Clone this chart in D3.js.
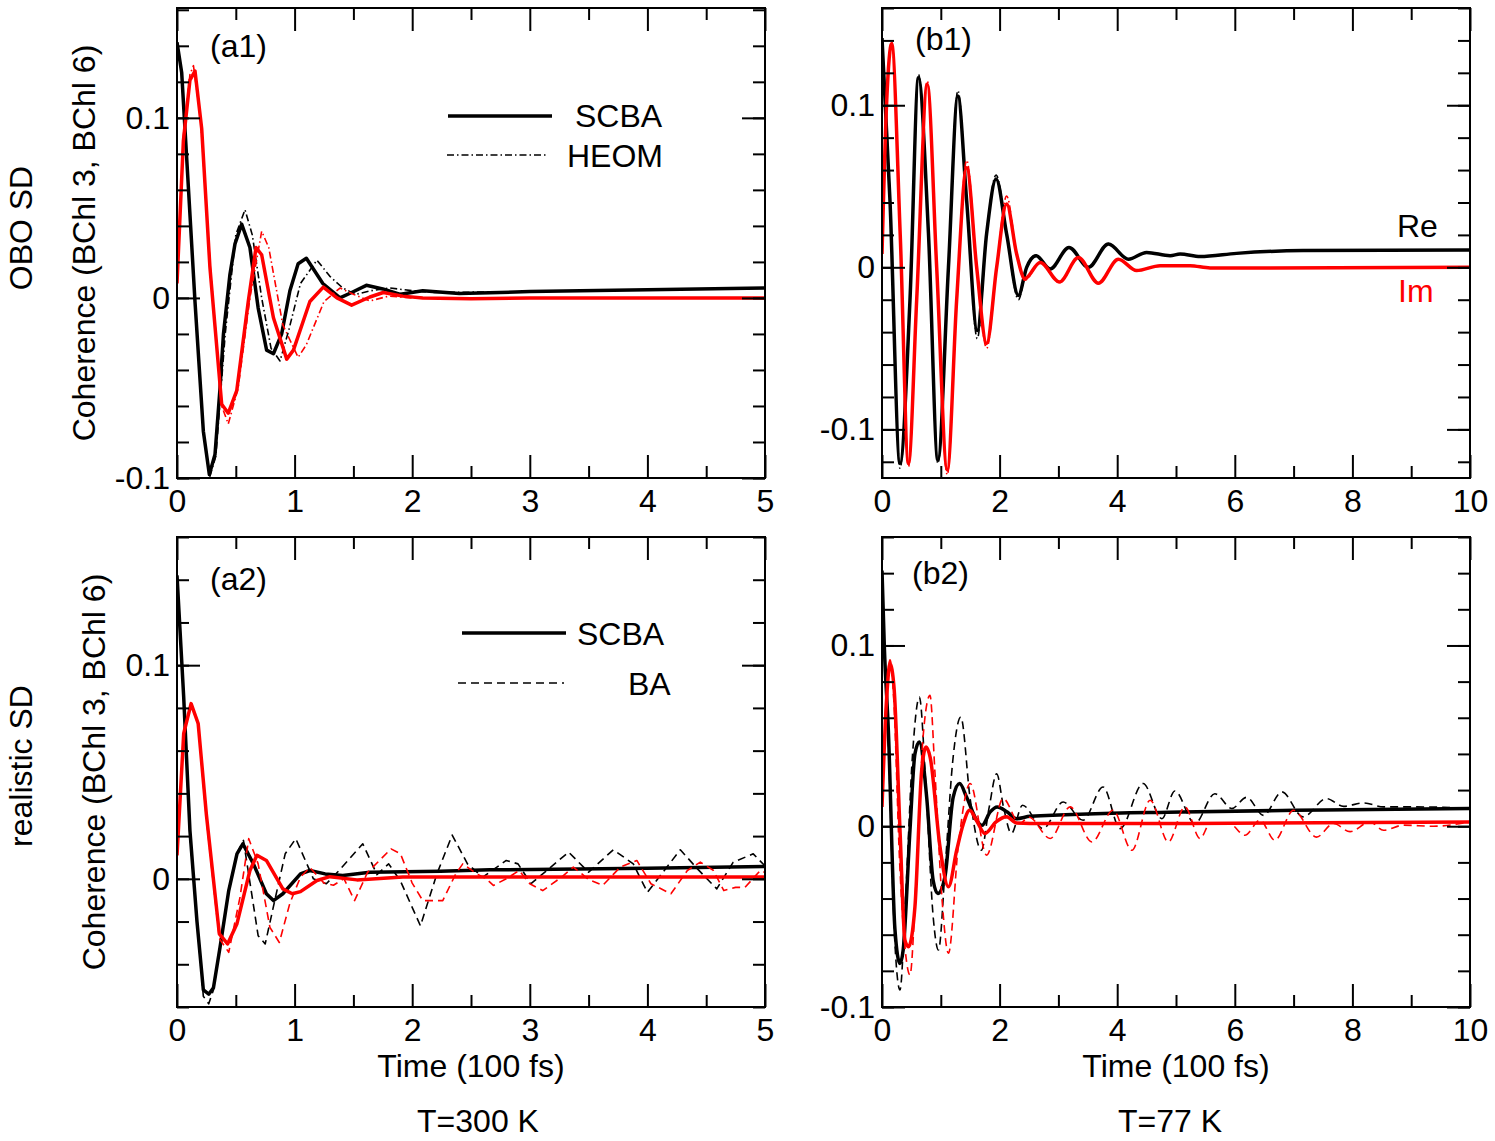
<!DOCTYPE html>
<meta charset="utf-8">
<style>
body { margin: 0; background: #fff; }
svg text { font-family: "Liberation Sans", Arial, Helvetica, sans-serif; font-size: 32px; fill: #000; }
.tick line { stroke-width: 2px; }
.frame { fill: none; stroke: #000; stroke-width: 2px; }
.curve { fill: none; stroke-linejoin: round; }
</style>
<svg width="1495" height="1141"></svg>
<script src="https://d3js.org/d3.v7.min.js"></script>
<script>

// ---- data: [time (100 fs), coherence] ----
var a1ScbaRe = [[0,0.142],[0.04,0.125],[0.082,0.078],[0.153,-0.002],[0.224,-0.074],[0.275,-0.098],[0.323,-0.087],[0.366,-0.05],[0.395,-0.02],[0.45,0.013],[0.493,0.030],[0.55,0.041],[0.62,0.028],[0.69,-0.0055],[0.762,-0.029],[0.82,-0.031],[0.89,-0.020],[0.96,0.004],[1.03,0.019],[1.10,0.022],[1.24,0.008],[1.386,0.0],[1.485,0.003],[1.61,0.007],[1.75,0.005],[1.9,0.002],[2.09,0.004],[2.4,0.0024],[3,0.0035],[4,0.0045],[5,0.0055]];
var a1HeomRe = [[0,0.142],[0.04,0.125],[0.082,0.078],[0.153,-0.002],[0.224,-0.075],[0.28,-0.099],[0.33,-0.088],[0.41,-0.02],[0.5,0.035],[0.578,0.049],[0.64,0.035],[0.72,0.0],[0.8,-0.028],[0.876,-0.035],[0.95,-0.018],[1.05,0.008],[1.19,0.021],[1.3,0.012],[1.41,0.0055],[1.52,0.002],[1.65,0.004],[1.81,0.0055],[2.0,0.004],[2.2,0.003],[3,0.0035],[4,0.0045],[5,0.0055]];
var a1ScbaIm = [[0,0.008],[0.054,0.087],[0.11,0.121],[0.153,0.126],[0.21,0.094],[0.28,0.017],[0.38,-0.059],[0.436,-0.064],[0.508,-0.0515],[0.606,-0.002],[0.672,0.028],[0.72,0.024],[0.82,-0.011],[0.933,-0.034],[0.99,-0.029],[1.13,-0.002],[1.244,0.006],[1.36,0.0],[1.485,-0.004],[1.64,0.0005],[1.754,0.003],[1.92,0.001],[2.09,0.0],[2.5,-0.0005],[3,0.0],[4,0.0],[5,0.0]];
var a1HeomIm = [[0,0.008],[0.054,0.09],[0.11,0.124],[0.14,0.129],[0.2,0.1],[0.28,0.02],[0.38,-0.06],[0.436,-0.070],[0.52,-0.05],[0.62,0.0],[0.72,0.037],[0.78,0.028],[0.9,-0.015],[1.03,-0.033],[1.1,-0.026],[1.25,-0.002],[1.386,0.0055],[1.5,0.002],[1.64,-0.0017],[1.8,0.001],[2.0,0.0],[3,0.0],[4,0.0],[5,0.0]];

var b1ScbaRe = [[0,0.1415],[0.136,0.041],[0.306,-0.121],[0.476,-0.020],[0.62,0.117],[0.79,0.021],[0.95,-0.119],[1.13,0.0],[1.29,0.1057],[1.44,0.041],[1.62,-0.039],[1.78,0.021],[1.94,0.0545],[2.12,0.0205],[2.32,-0.0174],[2.46,0.0],[2.62,0.0072],[2.86,-0.001],[3.18,0.0123],[3.51,0.0],[3.85,0.0144],[4.19,0.005],[4.5,0.0092],[4.9,0.0072],[5.07,0.0082],[5.41,0.0066],[6.03,0.0086],[7.16,0.0103],[10,0.0107]];
var b1HeomRe = [[0,0.142],[0.136,0.042],[0.306,-0.124],[0.476,-0.020],[0.62,0.119],[0.79,0.021],[0.95,-0.121],[1.13,0.0],[1.29,0.109],[1.44,0.042],[1.62,-0.044],[1.78,0.021],[1.94,0.057],[2.12,0.021],[2.32,-0.02],[2.46,0.0],[2.62,0.0075],[2.86,-0.001],[3.18,0.0125],[3.51,0.0],[3.85,0.0146],[4.19,0.005],[4.5,0.0092],[4.9,0.0072],[5.07,0.0082],[5.41,0.0066],[6.03,0.0086],[7.16,0.0103],[10,0.0107]];
var b1ScbaIm = [[0,0.0082],[0.08,0.1026],[0.164,0.138],[0.31,0.02],[0.45,-0.121],[0.59,-0.02],[0.77,0.113],[0.93,0.0],[1.11,-0.125],[1.27,-0.02],[1.44,0.0615],[1.61,0.0],[1.78,-0.047],[1.95,0.0],[2.12,0.039],[2.29,0.0082],[2.43,-0.007],[2.69,0.003],[3.02,-0.009],[3.34,0.006],[3.68,-0.0098],[4.02,0.005],[4.33,-0.002],[4.73,0.001],[5.24,0.001],[5.58,-0.0004],[6.3,-0.0004],[10,0.0]];
var b1HeomIm = [[0,0.0082],[0.08,0.103],[0.164,0.139],[0.31,0.02],[0.45,-0.123],[0.59,-0.02],[0.77,0.115],[0.93,0.0],[1.11,-0.128],[1.27,-0.02],[1.44,0.066],[1.61,0.0],[1.78,-0.05],[1.95,0.0],[2.12,0.044],[2.29,0.0082],[2.43,-0.008],[2.69,0.003],[3.02,-0.0095],[3.34,0.006],[3.68,-0.010],[4.02,0.005],[4.33,-0.002],[4.73,0.001],[5.24,0.001],[5.58,-0.0004],[6.3,-0.0004],[10,0.0]];

var a2ScbaRe = [[0,0.142],[0.057,0.085],[0.11,0.0226],[0.17,-0.02],[0.224,-0.052],[0.27,-0.054],[0.31,-0.051],[0.366,-0.032],[0.44,-0.0055],[0.51,0.0117],[0.56,0.0164],[0.65,0.007],[0.76,-0.007],[0.82,-0.0102],[0.9,-0.007],[1.05,0.0023],[1.13,0.0039],[1.26,0.0023],[1.41,0.0016],[1.64,0.0031],[2.24,0.0036],[2.66,0.0042],[4,0.005],[5,0.0058]];
var a2ScbaIm = [[0,0.011],[0.057,0.068],[0.12,0.082],[0.18,0.0727],[0.25,0.030],[0.36,-0.0258],[0.43,-0.0305],[0.51,-0.021],[0.62,0.0039],[0.68,0.011],[0.76,0.0086],[0.9,-0.0047],[0.98,-0.007],[1.05,-0.006],[1.19,-0.0008],[1.3,0.001],[1.53,-0.0005],[1.92,0.0008],[5,0.0008]];
var a2BaRe = [[0,0.142],[0.057,0.085],[0.11,0.02],[0.224,-0.055],[0.27,-0.0585],[0.31,-0.052],[0.44,-0.005],[0.51,0.012],[0.565,0.018],[0.69,-0.0266],[0.75,-0.0305],[0.85,-0.0055],[0.92,0.0117],[1.01,0.0188],[1.16,0.0],[1.27,-0.0023],[1.38,0.004],[1.58,0.0164],[1.70,0.002],[1.80,0.007],[1.90,-0.001],[2.07,-0.022],[2.21,0.0023],[2.34,0.0205],[2.47,0.007],[2.6,0.0008],[2.8,0.0086],[2.9,0.007],[3.01,-0.0023],[3.33,0.0125],[3.5,0.0031],[3.71,0.0136],[3.88,0.007],[4.0,-0.0063],[4.28,0.0136],[4.42,0.005],[4.59,-0.0047],[4.73,0.0078],[4.9,0.0117],[5.0,0.006]];
var a2BaIm = [[0,0.011],[0.057,0.068],[0.12,0.082],[0.18,0.072],[0.25,0.028],[0.36,-0.028],[0.44,-0.0344],[0.535,-0.0088],[0.61,0.0188],[0.69,0.007],[0.79,-0.0227],[0.87,-0.0298],[0.96,-0.0114],[1.05,0.0008],[1.13,0.0053],[1.25,-0.002],[1.33,-0.003],[1.42,0.0],[1.51,-0.0102],[1.62,0.003],[1.82,0.014],[1.9,0.0117],[2.0,-0.002],[2.09,-0.0102],[2.26,-0.0102],[2.37,0.0023],[2.43,0.007],[2.55,0.0023],[2.63,0.0],[2.69,-0.0031],[2.8,0.0],[2.91,0.0039],[3.0,-0.0023],[3.11,-0.0055],[3.27,0.0008],[3.37,0.0055],[3.5,-0.0003],[3.62,-0.0031],[3.77,0.0055],[3.91,0.0086],[4.03,-0.0023],[4.2,-0.007],[4.34,0.0039],[4.45,0.0078],[4.56,0.004],[4.65,-0.0055],[4.75,-0.004],[4.83,-0.004],[4.96,0.0039],[5.0,0.003]];

var b2ScbaRe = [[0,0.1414],[0.04,0.099],[0.108,0.053],[0.22,-0.057],[0.306,-0.0759],[0.36,-0.0685],[0.476,-0.002],[0.56,0.040],[0.635,0.0466],[0.76,0.016],[0.87,-0.03],[0.95,-0.0372],[1.07,-0.028],[1.21,0.016],[1.32,0.0236],[1.44,0.016],[1.61,0.0033],[1.7,0.0005],[1.84,0.0079],[1.96,0.0107],[2.13,0.0079],[2.29,0.0042],[2.52,0.0055],[5.1,0.0079],[7.5,0.009],[10,0.0098]];
var b2ScbaIm = [[0,0.0107],[0.08,0.0714],[0.136,0.0899],[0.204,0.077],[0.306,-0.002],[0.39,-0.063],[0.45,-0.0667],[0.56,-0.0446],[0.675,0.031],[0.75,0.0438],[0.82,0.038],[0.986,-0.0114],[1.13,-0.0335],[1.27,-0.0133],[1.38,0.001],[1.49,0.0088],[1.61,0.003],[1.75,-0.004],[1.94,0.0024],[2.12,0.0052],[2.29,0.0018],[2.74,0.0015],[5.24,0.0015],[10,0.0024]];
var b2BaRe = [[0,0.142],[0.04,0.1],[0.11,0.045],[0.22,-0.065],[0.306,-0.0906],[0.4,-0.04],[0.52,0.04],[0.635,0.0714],[0.75,0.02],[0.87,-0.05],[0.96,-0.0685],[1.08,-0.02],[1.2,0.035],[1.34,0.0604],[1.5,0.015],[1.69,-0.0133],[1.82,0.01],[1.95,0.029],[2.07,0.01],[2.2,-0.004],[2.39,0.0116],[2.74,-0.0013],[3.08,0.0134],[3.42,0.0033],[3.76,0.0217],[4.05,-0.0013],[4.44,0.0236],[4.76,0.0042],[4.98,0.0195],[5.32,0.0015],[5.66,0.018],[5.95,0.0098],[6.2,0.016],[6.49,0.006],[6.8,0.019],[7.16,0.0052],[7.56,0.0153],[7.85,0.011],[8.19,0.0129],[8.53,0.0107],[9.04,0.0107],[9.55,0.0105],[10,0.0098]];
var b2BaIm = [[0,0.0107],[0.08,0.075],[0.136,0.092],[0.2,0.07],[0.3,-0.02],[0.4,-0.07],[0.476,-0.0823],[0.58,-0.03],[0.7,0.05],[0.816,0.0724],[0.9,0.03],[1.02,-0.04],[1.13,-0.0703],[1.3,-0.01],[1.5,0.0236],[1.78,-0.016],[2.06,0.0153],[2.34,0.0015],[2.5,0.005],[2.86,-0.0068],[3.2,0.0107],[3.57,-0.0087],[3.93,0.0088],[4.25,-0.0133],[4.56,0.0144],[4.87,-0.0087],[5.15,0.0107],[5.41,-0.0068],[5.58,0.0015],[5.92,0.0012],[6.17,-0.005],[6.43,0.0033],[6.68,-0.0077],[7.0,0.0088],[7.39,-0.006],[7.68,0.0015],[7.96,-0.003],[8.3,0.0024],[8.53,-0.0022],[8.87,0.0006],[9.38,0.0],[10,0.0024]];

// ticks
var xMajorA = [0,1,2,3,4,5], xMinorA = [0.5,1.5,2.5,3.5,4.5];
var xMajorB = [0,2,4,6,8,10], xMinorB = [1,3,5,7,9];
var yMajor = [-0.1,0,0.1];
var yMinor = [-0.12,-0.1,-0.08,-0.06,-0.04,-0.02,0,0.02,0.04,0.06,0.08,0.1,0.12,0.14,0.16];

var RED = "#ff0000";
var solid = {width: 3.5, dash: null};
var heom = {width: 1.6, dash: "7,3,1.5,3"};
var ba = {width: 1.6, dash: "8,5"};

var panels = [
  {label: "(a1)", lx: 210, ly: 57, box: [177, 765, 8, 478], xMax: 5, yDom: [-0.1, 0.161], xMajor: xMajorA, xMinor: xMinorA, curve: d3.curveLinear,
   series: [[a1ScbaRe, "#000", solid], [a1HeomRe, "#000", heom], [a1ScbaIm, RED, solid], [a1HeomIm, RED, heom]]},
  {label: "(b1)", lx: 915, ly: 50, box: [882, 1470, 8, 478], xMax: 10, yDom: [-0.13, 0.16], xMajor: xMajorB, xMinor: xMinorB, curve: d3.curveMonotoneX,
   series: [[b1ScbaRe, "#000", solid], [b1HeomRe, "#000", heom], [b1ScbaIm, RED, solid], [b1HeomIm, RED, heom]]},
  {label: "(a2)", lx: 210, ly: 590, box: [177, 765, 537, 1007], xMax: 5, yDom: [-0.06, 0.16], xMajor: xMajorA, xMinor: xMinorA, curve: d3.curveLinear,
   series: [[a2ScbaRe, "#000", solid], [a2BaRe, "#000", ba], [a2ScbaIm, RED, solid], [a2BaIm, RED, ba]]},
  {label: "(b2)", lx: 912, ly: 584, box: [882, 1470, 537, 1007], xMax: 10, yDom: [-0.1, 0.16], xMajor: xMajorB, xMinor: xMinorB, curve: d3.curveMonotoneX,
   series: [[b2ScbaRe, "#000", solid], [b2BaRe, "#000", ba], [b2ScbaIm, RED, solid], [b2BaIm, RED, ba]]}
];

var svg = d3.select("svg");
var fmtY = function(d) { return d === 0 ? "0" : d.toFixed(1); };

function inDomain(vals, dom) {
  return vals.filter(function(v) { return v >= dom[0] - 1e-9 && v <= dom[1] + 1e-9; });
}

panels.forEach(function(p, i) {
  var x = d3.scaleLinear().domain([0, p.xMax]).range([p.box[0], p.box[1]]);
  var y = d3.scaleLinear().domain(p.yDom).range([p.box[3], p.box[2]]);

  var clipId = "clip" + i;
  svg.append("clipPath").attr("id", clipId)
    .append("rect")
    .attr("x", p.box[0]).attr("y", p.box[2])
    .attr("width", p.box[1] - p.box[0]).attr("height", p.box[3] - p.box[2]);

  var line = d3.line()
    .x(function(d) { return x(d[0]); })
    .y(function(d) { return y(d[1]); })
    .curve(p.curve);

  var g = svg.append("g").attr("clip-path", "url(#" + clipId + ")");
  p.series.forEach(function(s) {
    g.append("path")
      .datum(s[0])
      .attr("class", "curve")
      .attr("d", line)
      .attr("stroke", s[1])
      .attr("stroke-width", s[2].width)
      .attr("stroke-dasharray", s[2].dash);
  });

  var yMaj = inDomain(yMajor, p.yDom), yMin = inDomain(yMinor, p.yDom);
  function strip(sel) { sel.select(".domain").remove(); }

  // bottom
  svg.append("g").attr("transform", "translate(0," + p.box[3] + ")")
    .call(d3.axisBottom(x).tickValues(p.xMajor).tickSize(-23).tickPadding(11).tickFormat(d3.format("d"))).call(strip);
  svg.append("g").attr("transform", "translate(0," + p.box[3] + ")")
    .call(d3.axisBottom(x).tickValues(p.xMinor).tickSize(-12).tickFormat("")).call(strip);
  // top
  svg.append("g").attr("transform", "translate(0," + p.box[2] + ")")
    .call(d3.axisTop(x).tickValues(p.xMajor).tickSize(-23).tickFormat("")).call(strip);
  svg.append("g").attr("transform", "translate(0," + p.box[2] + ")")
    .call(d3.axisTop(x).tickValues(p.xMinor).tickSize(-12).tickFormat("")).call(strip);
  // left
  svg.append("g").attr("transform", "translate(" + p.box[0] + ",0)")
    .call(d3.axisLeft(y).tickValues(yMaj).tickSize(-23).tickPadding(7).tickFormat(fmtY)).call(strip);
  svg.append("g").attr("transform", "translate(" + p.box[0] + ",0)")
    .call(d3.axisLeft(y).tickValues(yMin).tickSize(-12).tickFormat("")).call(strip);
  // right
  svg.append("g").attr("transform", "translate(" + p.box[1] + ",0)")
    .call(d3.axisRight(y).tickValues(yMaj).tickSize(-23).tickFormat("")).call(strip);
  svg.append("g").attr("transform", "translate(" + p.box[1] + ",0)")
    .call(d3.axisRight(y).tickValues(yMin).tickSize(-12).tickFormat("")).call(strip);

  svg.append("rect").attr("class", "frame")
    .attr("x", p.box[0]).attr("y", p.box[2])
    .attr("width", p.box[1] - p.box[0]).attr("height", p.box[3] - p.box[2]);

  svg.append("text").attr("x", p.lx).attr("y", p.ly).text(p.label);
});

// legends
function legendLine(x1, x2, yy, st) {
  svg.append("line").attr("x1", x1).attr("x2", x2).attr("y1", yy).attr("y2", yy)
    .attr("stroke", "#000").attr("stroke-width", st.width).attr("stroke-dasharray", st.dash);
}
legendLine(448, 552, 116, solid);
svg.append("text").attr("x", 575).attr("y", 127).text("SCBA");
legendLine(447, 547, 155, heom);
svg.append("text").attr("x", 567).attr("y", 167).text("HEOM");

legendLine(462, 566, 633, solid);
svg.append("text").attr("x", 577).attr("y", 645).text("SCBA");
legendLine(458, 564, 683, ba);
svg.append("text").attr("x", 628).attr("y", 695).text("BA");

svg.append("text").attr("x", 1397).attr("y", 237).text("Re");
svg.append("text").attr("x", 1398).attr("y", 302).style("fill", RED).text("Im");

// axis titles
[[471, 1077, "Time (100 fs)"], [1176, 1077, "Time (100 fs)"], [478, 1132, "T=300 K"], [1170, 1132, "T=77 K"]].forEach(function(t) {
  svg.append("text").attr("x", t[0]).attr("y", t[1]).attr("text-anchor", "middle").text(t[2]);
});
[[32, 228, "OBO SD"], [32, 766, "realistic SD"], [95, 243, "Coherence (BChl 3, BChl 6)"], [105, 772, "Coherence (BChl 3, BChl 6)"]].forEach(function(t) {
  svg.append("text").attr("transform", "translate(" + t[0] + "," + t[1] + ") rotate(-90)")
    .attr("text-anchor", "middle").text(t[2]);
});

</script>
